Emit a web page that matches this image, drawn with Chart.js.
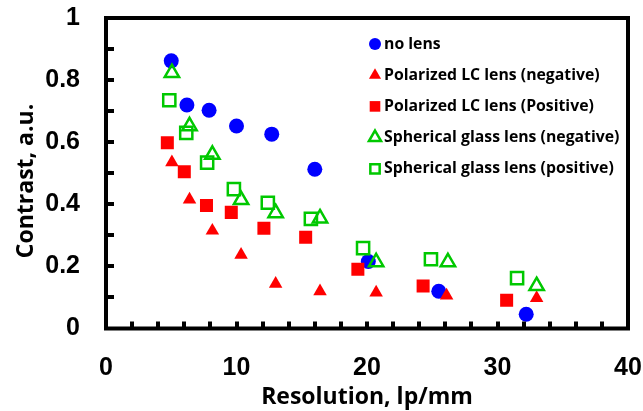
<!DOCTYPE html>
<html>
<head>
<meta charset="utf-8">
<script src="https://cdn.jsdelivr.net/npm/chart.js@4/dist/chart.umd.min.js"></script>
<style>
  html, body { margin: 0; padding: 0; background: #fff; }
  #wrap { width: 643px; height: 411px; position: relative; }
</style>
</head>
<body>
<div id="wrap"><canvas id="c"></canvas></div>
<script>
// Contrast vs resolution

const seriesNames = [
  'no lens',
  'Polarized LC lens (negative)',
  'Polarized LC lens (Positive)',
  'Spherical glass lens (negative)',
  'Spherical glass lens (positive)',
];

const noLensX   = [5.0, 6.2, 7.9, 10.0, 12.7, 16.0, 20.1, 25.5, 32.2];
const noLensY   = [0.862, 0.720, 0.703, 0.652, 0.626, 0.513, 0.216, 0.120, 0.046];

const lcNegX    = [5.05, 6.4, 8.15, 10.35, 13.0, 16.4, 20.7, 26.1, 33.0];
const lcNegY    = [0.535, 0.415, 0.315, 0.237, 0.144, 0.120, 0.116, 0.106, 0.098];

const lcPosX    = [4.7, 6.0, 7.7, 9.6, 12.1, 15.3, 19.3, 24.3, 30.7];
const lcPosY    = [0.598, 0.505, 0.396, 0.374, 0.323, 0.294, 0.191, 0.137, 0.091];

const glassNegX = [5.05, 6.4, 8.15, 10.35, 13.0, 16.4, 20.7, 26.2, 33.0];
const glassNegY = [0.823, 0.652, 0.560, 0.414, 0.372, 0.355, 0.214, 0.214, 0.137];

const glassPosX = [4.85, 6.15, 7.75, 9.8, 12.4, 15.7, 19.7, 24.9, 31.5];
const glassPosY = [0.735, 0.630, 0.534, 0.449, 0.405, 0.353, 0.259, 0.223, 0.162];

const xMajorTicks = [0, 10, 20, 30, 40];
const yMajorTicks = [0, 0.2, 0.4, 0.6, 0.8, 1];
const xMinorStep = 2;
const yMinorStep = 0.1;

const xTitle = 'Resolution, lp/mm';
const yTitle = 'Contrast, a.u.';

const BLUE  = '#0000ff';
const RED   = '#ff0000';
const GREEN = '#00c800';

const TITLE_FONT = '"Open Sans", Lato, sans-serif';
const TICK_FONT  = '"Liberation Sans", Arial, sans-serif';

function pts(xs, ys) {
  return xs.map((x, i) => ({ x: x, y: ys[i] }));
}

const datasets = [
  { label: seriesNames[0], data: pts(noLensX, noLensY), pointStyle: 'circle',
    pointRadius: 7.5, backgroundColor: BLUE, borderColor: BLUE, pointBorderWidth: 0, order: 5 },
  { label: seriesNames[1], data: pts(lcNegX, lcNegY), pointStyle: 'triangle',
    pointRadius: 7.8, backgroundColor: RED, borderColor: RED, pointBorderWidth: 0, order: 4 },
  { label: seriesNames[2], data: pts(lcPosX, lcPosY), pointStyle: 'rect',
    pointRadius: 9.2, backgroundColor: RED, borderColor: RED, pointBorderWidth: 0, order: 3 },
  { label: seriesNames[3], data: pts(glassNegX, glassNegY), pointStyle: 'triangle',
    pointRadius: 8.3, backgroundColor: 'rgba(0,0,0,0)', borderColor: GREEN, pointBorderWidth: 2.5, order: 2 },
  { label: seriesNames[4], data: pts(glassPosX, glassPosY), pointStyle: 'rect',
    pointRadius: 8.6, backgroundColor: 'rgba(0,0,0,0)', borderColor: GREEN, pointBorderWidth: 2.5, order: 1 },
];

// frame, inward tick marks, y title and the in-plot legend
const framePlugin = {
  id: 'frame',
  afterDraw(chart) {
    const { ctx, chartArea: a, scales } = chart;
    ctx.save();
    ctx.strokeStyle = '#000';
    ctx.lineWidth = 4;
    ctx.lineCap = 'butt';
    ctx.strokeRect(a.left, a.top, a.right - a.left, a.bottom - a.top);

    ctx.beginPath();
    for (let v = xMinorStep; v < 40; v += xMinorStep) {
      const px = Math.round(scales.x.getPixelForValue(v));
      ctx.moveTo(px, a.bottom);
      ctx.lineTo(px, a.bottom - 7);
    }
    for (let v = yMinorStep; v < 0.99; v += yMinorStep) {
      const py = Math.round(scales.y.getPixelForValue(v));
      ctx.moveTo(a.left, py);
      ctx.lineTo(a.left + 8, py);
    }
    ctx.stroke();

    // y axis title, sits a little below the plot centre in the source
    ctx.save();
    ctx.translate(26, 181);
    ctx.rotate(-Math.PI / 2);
    ctx.font = 'bold 23px ' + TITLE_FONT;
    ctx.fillStyle = '#000';
    ctx.textAlign = 'center';
    ctx.textBaseline = 'middle';
    ctx.fillText(yTitle, 0, 0);
    ctx.restore();

    // legend
    const lx = 375, tx = 384, ly0 = 44, dy = 31.2;
    const legendRadius = [6, 7, 7.5, 7, 6.6];
    ctx.font = 'bold 15.8px ' + TITLE_FONT;
    ctx.textBaseline = 'middle';
    ctx.textAlign = 'left';
    chart.data.datasets.forEach((ds, i) => {
      const y = ly0 + i * dy;
      ctx.fillStyle = ds.backgroundColor;
      ctx.strokeStyle = ds.borderColor;
      ctx.lineWidth = ds.pointBorderWidth || 0;
      Chart.helpers.drawPoint(ctx, {
        pointStyle: ds.pointStyle,
        radius: legendRadius[i],
        rotation: 0,
        borderWidth: ds.pointBorderWidth || 0,
      }, lx, y);
      ctx.fillStyle = '#000';
      ctx.fillText(ds.label, tx, y);
    });
    ctx.restore();
  }
};

new Chart(document.getElementById('c'), {
  type: 'scatter',
  data: { datasets: datasets },
  options: {
    responsive: true,
    maintainAspectRatio: false,
    animation: false,
    layout: { padding: { top: 18, right: 15, left: 0, bottom: 0 } },
    plugins: {
      legend: { display: false },
      tooltip: { enabled: false },
    },
    scales: {
      x: {
        type: 'linear',
        min: 0,
        max: 40,
        afterFit: s => {
          s.height = 82.5;
          s.paddingLeft = 0;
          s.paddingRight = 0;
        },
        afterBuildTicks: s => { s.ticks = xMajorTicks.map(v => ({ value: v })); },
        border: { display: false },
        grid: { display: false, drawTicks: false },
        ticks: {
          padding: 25,
          color: '#000',
          font: { family: TICK_FONT, size: 25, weight: 'bold' },
          maxRotation: 0,
          callback: v => String(v),
        },
        title: {
          display: true,
          text: xTitle,
          color: '#000',
          font: { family: TITLE_FONT, size: 23, weight: 'bold' },
          padding: { top: 0, bottom: 0 },
        },
      },
      y: {
        type: 'linear',
        min: 0,
        max: 1,
        afterFit: s => {
          s.width = 106;
          s.paddingTop = 0;
          s.paddingBottom = 0;
        },
        afterBuildTicks: s => { s.ticks = yMajorTicks.map(v => ({ value: v })); },
        border: { display: false },
        grid: { display: false, drawTicks: false },
        ticks: {
          padding: 26,
          color: '#000',
          font: { family: TICK_FONT, size: 25, weight: 'bold' },
          callback: v => String(+v.toFixed(1)),
        },
        title: { display: false },
      },
    },
  },
  plugins: [framePlugin],
});
</script>
</body>
</html>
